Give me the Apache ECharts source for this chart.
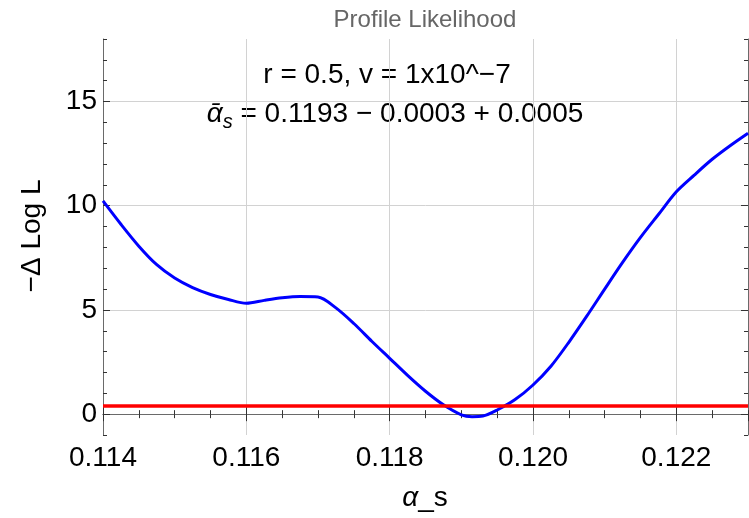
<!DOCTYPE html>
<html>
<head>
<meta charset="utf-8">
<title>Profile Likelihood</title>
<script src="https://cdn.jsdelivr.net/npm/echarts@6/dist/echarts.min.js"></script>
<style>
  html, body { margin: 0; padding: 0; background: #fff; }
  #chart { width: 749px; height: 518px; }
</style>
</head>
<body>
<div id="chart"></div>
<script>
// alpha_s scan points
const alphaS = [
  0.11400, 0.11425, 0.11450, 0.11475, 0.11500, 0.11525, 0.11550, 0.11575,
  0.11600, 0.11625, 0.11650, 0.11675, 0.11700, 0.11725, 0.11750, 0.11775,
  0.11800, 0.11825, 0.11850, 0.11875, 0.11900, 0.11915, 0.11930, 0.11950,
  0.11975, 0.12000, 0.12025, 0.12050, 0.12075, 0.12100, 0.12125, 0.12150,
  0.12175, 0.12200, 0.12225, 0.12250, 0.12275, 0.12300
];
// -Delta log L at each scan point
const deltaLogL = [
  10.23, 9.11, 8.06, 7.17, 6.53, 6.07, 5.74, 5.50,
  5.32, 5.46, 5.58, 5.64, 5.62, 5.10, 4.35, 3.50,
  2.68, 1.86, 1.10, 0.45, -0.03, -0.12, -0.09, 0.20,
  0.70, 1.40, 2.30, 3.45, 4.70, 6.00, 7.28, 8.48,
  9.58, 10.67, 11.47, 12.23, 12.88, 13.48
];
// one-sigma level (minimum + 0.5)
const sigmaLevel = 0.39;

const xRange = [0.114, 0.123];
const yRange = [-1, 18];
const yMajorTicks = [0, 5, 10, 15];

const FONT = '"Liberation Sans", Arial, Helvetica, sans-serif';
const FRAME = '#6a6a6a';
const TICK = '#333';
const GRID = '#d2d2d2';

const curve = alphaS.map((x, i) => [x, deltaLogL[i]]);
const level = [[xRange[0], sigmaLevel], [xRange[1], sigmaLevel]];

function xAxisDef(pos, major) {
  return {
    type: 'value', position: pos, min: xRange[0], max: xRange[1],
    interval: major ? 0.002 : 0.0005,
    axisLine: { show: major, lineStyle: { color: FRAME, width: 1 } },
    axisTick: { show: true, inside: true, length: major ? 7 : 4, lineStyle: { color: TICK, width: 1 } },
    axisLabel: {
      show: major && pos === 'bottom', showMaxLabel: false, margin: 9,
      fontSize: 28, fontFamily: FONT, color: '#000',
      formatter: v => v.toFixed(3)
    },
    splitLine: { show: major && pos === 'bottom', lineStyle: { color: GRID, width: 1 } },
    minorTick: { show: false }
  };
}

function yAxisDef(pos, major) {
  const a = {
    type: 'value', position: pos, min: yRange[0], max: yRange[1],
    axisLine: { show: major, lineStyle: { color: FRAME, width: 1 } },
    axisTick: { show: true, inside: true, length: major ? 7 : 4, lineStyle: { color: TICK, width: 1 } },
    axisLabel: {
      show: major && pos === 'left', margin: 6,
      fontSize: 28, fontFamily: FONT, color: '#000'
    },
    splitLine: { show: major && pos === 'left', lineStyle: { color: GRID, width: 1 } }
  };
  if (major) {
    a.axisTick.customValues = yMajorTicks;
    a.axisLabel.customValues = yMajorTicks;
  } else {
    a.interval = 1;
  }
  return a;
}

const chart = echarts.init(document.getElementById('chart'), null, { renderer: 'canvas' });

chart.setOption({
  backgroundColor: '#fff',
  animation: false,
  grid: { left: 103, right: 1, top: 39, bottom: 83, containLabel: false },
  xAxis: [
    xAxisDef('bottom', true), xAxisDef('bottom', false),
    xAxisDef('top', true), xAxisDef('top', false)
  ],
  yAxis: [
    yAxisDef('left', true), yAxisDef('left', false),
    yAxisDef('right', true), yAxisDef('right', false)
  ],
  series: [
    {
      type: 'line', data: curve, xAxisIndex: 0, yAxisIndex: 0,
      showSymbol: false, smooth: 0.3,
      lineStyle: { color: '#0000ff', width: 3 }, z: 3
    },
    {
      type: 'line', data: level, xAxisIndex: 0, yAxisIndex: 0,
      showSymbol: false,
      lineStyle: { color: '#ff0000', width: 3.5 }, z: 4
    }
  ],
  graphic: [
    {
      type: 'text', x: 425, y: 20,
      style: { text: 'Profile Likelihood', fontSize: 24, fontFamily: FONT, fill: '#666',
               align: 'center', verticalAlign: 'middle' }
    },
    {
      type: 'text', x: 387, y: 75,
      style: { text: 'r = 0.5, v = 1x10^\u22127', fontSize: 28, fontFamily: FONT, fill: '#000',
               align: 'center', verticalAlign: 'middle' }
    },
    {
      type: 'text', x: 395, y: 114,
      style: {
        text: '{a|\u1FB1}{s|s}{m| = 0.1193 \u2212 0.0003 + 0.0005}',
        fontSize: 28, fontFamily: FONT, fill: '#000',
        align: 'center', verticalAlign: 'middle',
        rich: {
          a: { fontSize: 28, fontStyle: 'italic', fontFamily: FONT, lineHeight: 36, fill: '#000' },
          s: { fontSize: 20, fontStyle: 'italic', fontFamily: FONT, lineHeight: 16, verticalAlign: 'bottom', fill: '#000' },
          m: { fontSize: 28, fontFamily: FONT, lineHeight: 36, fill: '#000' }
        }
      }
    },
    {
      type: 'text', x: 32, y: 236, rotation: Math.PI / 2,
      style: { text: '\u2212\u0394 Log L', fontSize: 28, fontFamily: FONT, fill: '#000',
               align: 'center', verticalAlign: 'middle' }
    },
    {
      type: 'text', x: 425, y: 498,
      style: {
        text: '{a|\u03B1}{m|_s}',
        fontSize: 28, fontFamily: FONT, fill: '#000',
        align: 'center', verticalAlign: 'middle',
        rich: {
          a: { fontSize: 28, fontStyle: 'italic', fontFamily: FONT, fill: '#000' },
          m: { fontSize: 28, fontFamily: FONT, fill: '#000' }
        }
      }
    }
  ]
});
</script>
</body>
</html>
